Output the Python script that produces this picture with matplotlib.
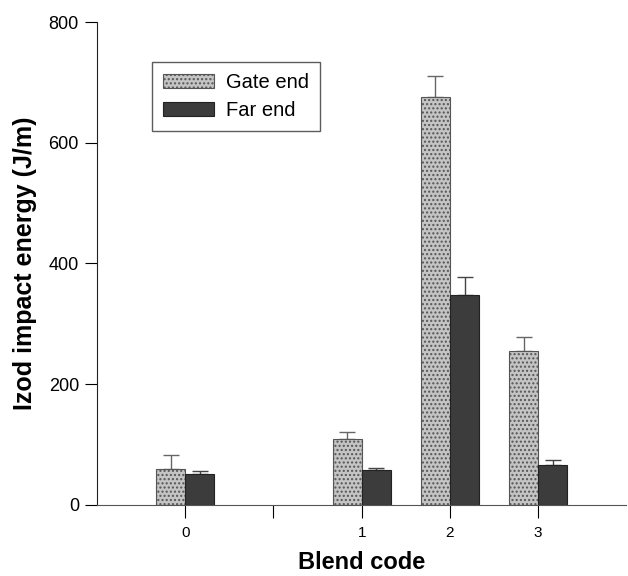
import matplotlib
matplotlib.use("Agg")
import matplotlib.pyplot as plt
import numpy as np

plt.rcParams['font.family'] = ['Liberation Sans', 'DejaVu Sans']

tick_labels = ["0", "", "1", "2", "3"]
blend_pos = [0, 2, 3, 4]
gate_end = [60, 109, 676, 255]
gate_err = [23, 12, 35, 23]
far_end = [52, 58, 348, 66]
far_err = [4, 3, 30, 8]

fig = plt.figure(figsize=(6.28, 5.76), dpi=100)
ax = fig.add_axes([0.1545, 0.1233, 0.843, 0.8385])

w = 0.33
x = np.array(blend_pos, dtype=float)
ax.bar(x - w/2, gate_end, width=w, color='#c4c4c4', edgecolor='#555555',
       linewidth=0.8, hatch='....', label='Gate end', zorder=2)
ax.bar(x + w/2, far_end, width=w, color='#3c3c3c', edgecolor='#222222',
       linewidth=0.8, label='Far end', zorder=2)
ax.errorbar(x - w/2, gate_end, yerr=[np.zeros(4), gate_err], fmt='none',
            ecolor='#666666', elinewidth=1, capsize=6, capthick=1, zorder=1)
ax.errorbar(x + w/2, far_end, yerr=[np.zeros(4), far_err], fmt='none',
            ecolor='#444444', elinewidth=1, capsize=6, capthick=1, zorder=1)

ax.set_xlim(-1, 5)
ax.set_ylim(0, 800)
ax.set_xticks(range(5))
ax.set_xticklabels(tick_labels)
ax.set_yticks([0, 200, 400, 600, 800])
for s in ['top', 'right']:
    ax.spines[s].set_visible(False)
ax.spines['left'].set_color('#222222')
ax.spines['bottom'].set_color('#555555')
ax.tick_params(axis='y', direction='out', length=9, labelsize=13, pad=4)
ax.tick_params(axis='x', direction='out', length=9, labelsize=11, pad=6)

ax.set_ylabel('Izod impact energy (J/m)', fontsize=18, fontweight='bold', labelpad=8)
ax.set_xlabel('Blend code', fontsize=17, fontweight='bold', labelpad=8)

leg = ax.legend(loc='upper left', bbox_to_anchor=(0.104, 0.917), borderaxespad=0,
                fontsize=14.5, frameon=True, fancybox=False, edgecolor='#333333',
                handlelength=2.5, handleheight=0.65, handletextpad=0.6,
                borderpad=0.55, labelspacing=0.45)
leg.get_frame().set_linewidth(1.0)

fig.savefig('out.png', dpi=100)
